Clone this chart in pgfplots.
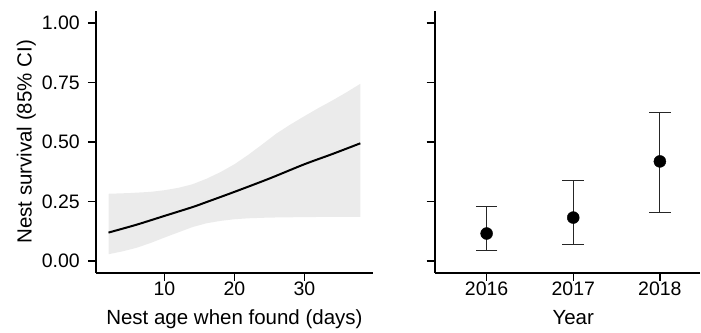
\documentclass[border=0pt]{standalone}
\usepackage{fontspec}
\setmainfont{Liberation Sans}
\usepackage{pgfplots}
\pgfplotsset{compat=1.18}
\definecolor{band}{HTML}{EBEBEB}
\begin{document}
\begin{tikzpicture}
\pgfplotsset{
 myax/.style={
  scale only axis,
  anchor=south west,
  height=262pt,
  ymin=-0.05, ymax=1.05,
  axis lines=left,
  axis line style={-, line width=1.7pt, black},
  tick align=outside,
  major tick length=8pt,
  tick style={line width=1.5pt, black},
  ytick={0,0.25,0.5,0.75,1},
  /pgf/number format/assume math mode=true,
  ticklabel style={font=\fontsize{19.5}{20}\selectfont, inner sep=0pt},
  xticklabel style={anchor=north, yshift=-1pt},
  yticklabel style={anchor=east, xshift=-8pt},
  label style={font=\fontsize{20.5}{22}\selectfont, inner sep=0pt},
  xlabel style={at={(axis description cs:0.5,0)}, anchor=base, yshift=-52pt},
  clip=false,
 }}
\begin{axis}[myax, at={(96pt,60pt)}, width=277.2pt,
  xmin=0.2, xmax=39.8, xtick={10,20,30},
  yticklabels={0.00,0.25,0.50,0.75,1.00},
  xlabel={Nest age when found (days)},
  ylabel={Nest survival (85\% CI)},
  ylabel style={at={(axis description cs:0,0.5)}, anchor=south, yshift=60pt}]
\addplot[fill=band, draw=none] coordinates {
 (2,0.282) (5,0.285) (8,0.290) (10,0.297) (12,0.307) (14,0.322) (16,0.345) (18,0.373)
 (20,0.406) (22,0.446) (24,0.490) (26,0.535) (28,0.573) (30,0.608) (32,0.642)
 (34,0.674) (36,0.708) (38,0.744)
 (38,0.185) (34,0.185) (30,0.184) (25,0.182) (22,0.179) (20,0.175) (18,0.168)
 (16,0.158) (14,0.142) (12,0.120) (10,0.098) (8,0.075) (6,0.055) (4,0.040) (2,0.028)} -- cycle;
\addplot[black, line width=2pt, smooth] coordinates {
 (2,0.119) (6,0.152) (10,0.189) (14,0.226) (16,0.247) (20,0.290) (25,0.346)
 (30,0.406) (34,0.449) (38,0.494)};
\end{axis}
\begin{axis}[myax, at={(435pt,60pt)}, width=265.7pt,
  xmin=0.4, xmax=3.465, xtick={1,2,3}, xticklabels={2016,2017,2018},
  yticklabels={},
  xlabel={Year},
  xlabel style={at={(axis description cs:0.522,0)}}]
\addplot[only marks, mark=*, mark size=6pt, black,
  error bars/.cd, y dir=both, y explicit,
  error bar style={line width=1.1pt, black!85},
  error mark options={rotate=90, mark size=10.8pt, line width=1.1pt, black!85}]
  coordinates {
  (1,0.115) += (0,0.113) -= (0,0.073)
  (2,0.182) += (0,0.157) -= (0,0.112)
  (3,0.418) += (0,0.204) -= (0,0.214)};
\end{axis}
\path (0pt,0pt) rectangle (701pt,333pt);
\end{tikzpicture}
\end{document}
